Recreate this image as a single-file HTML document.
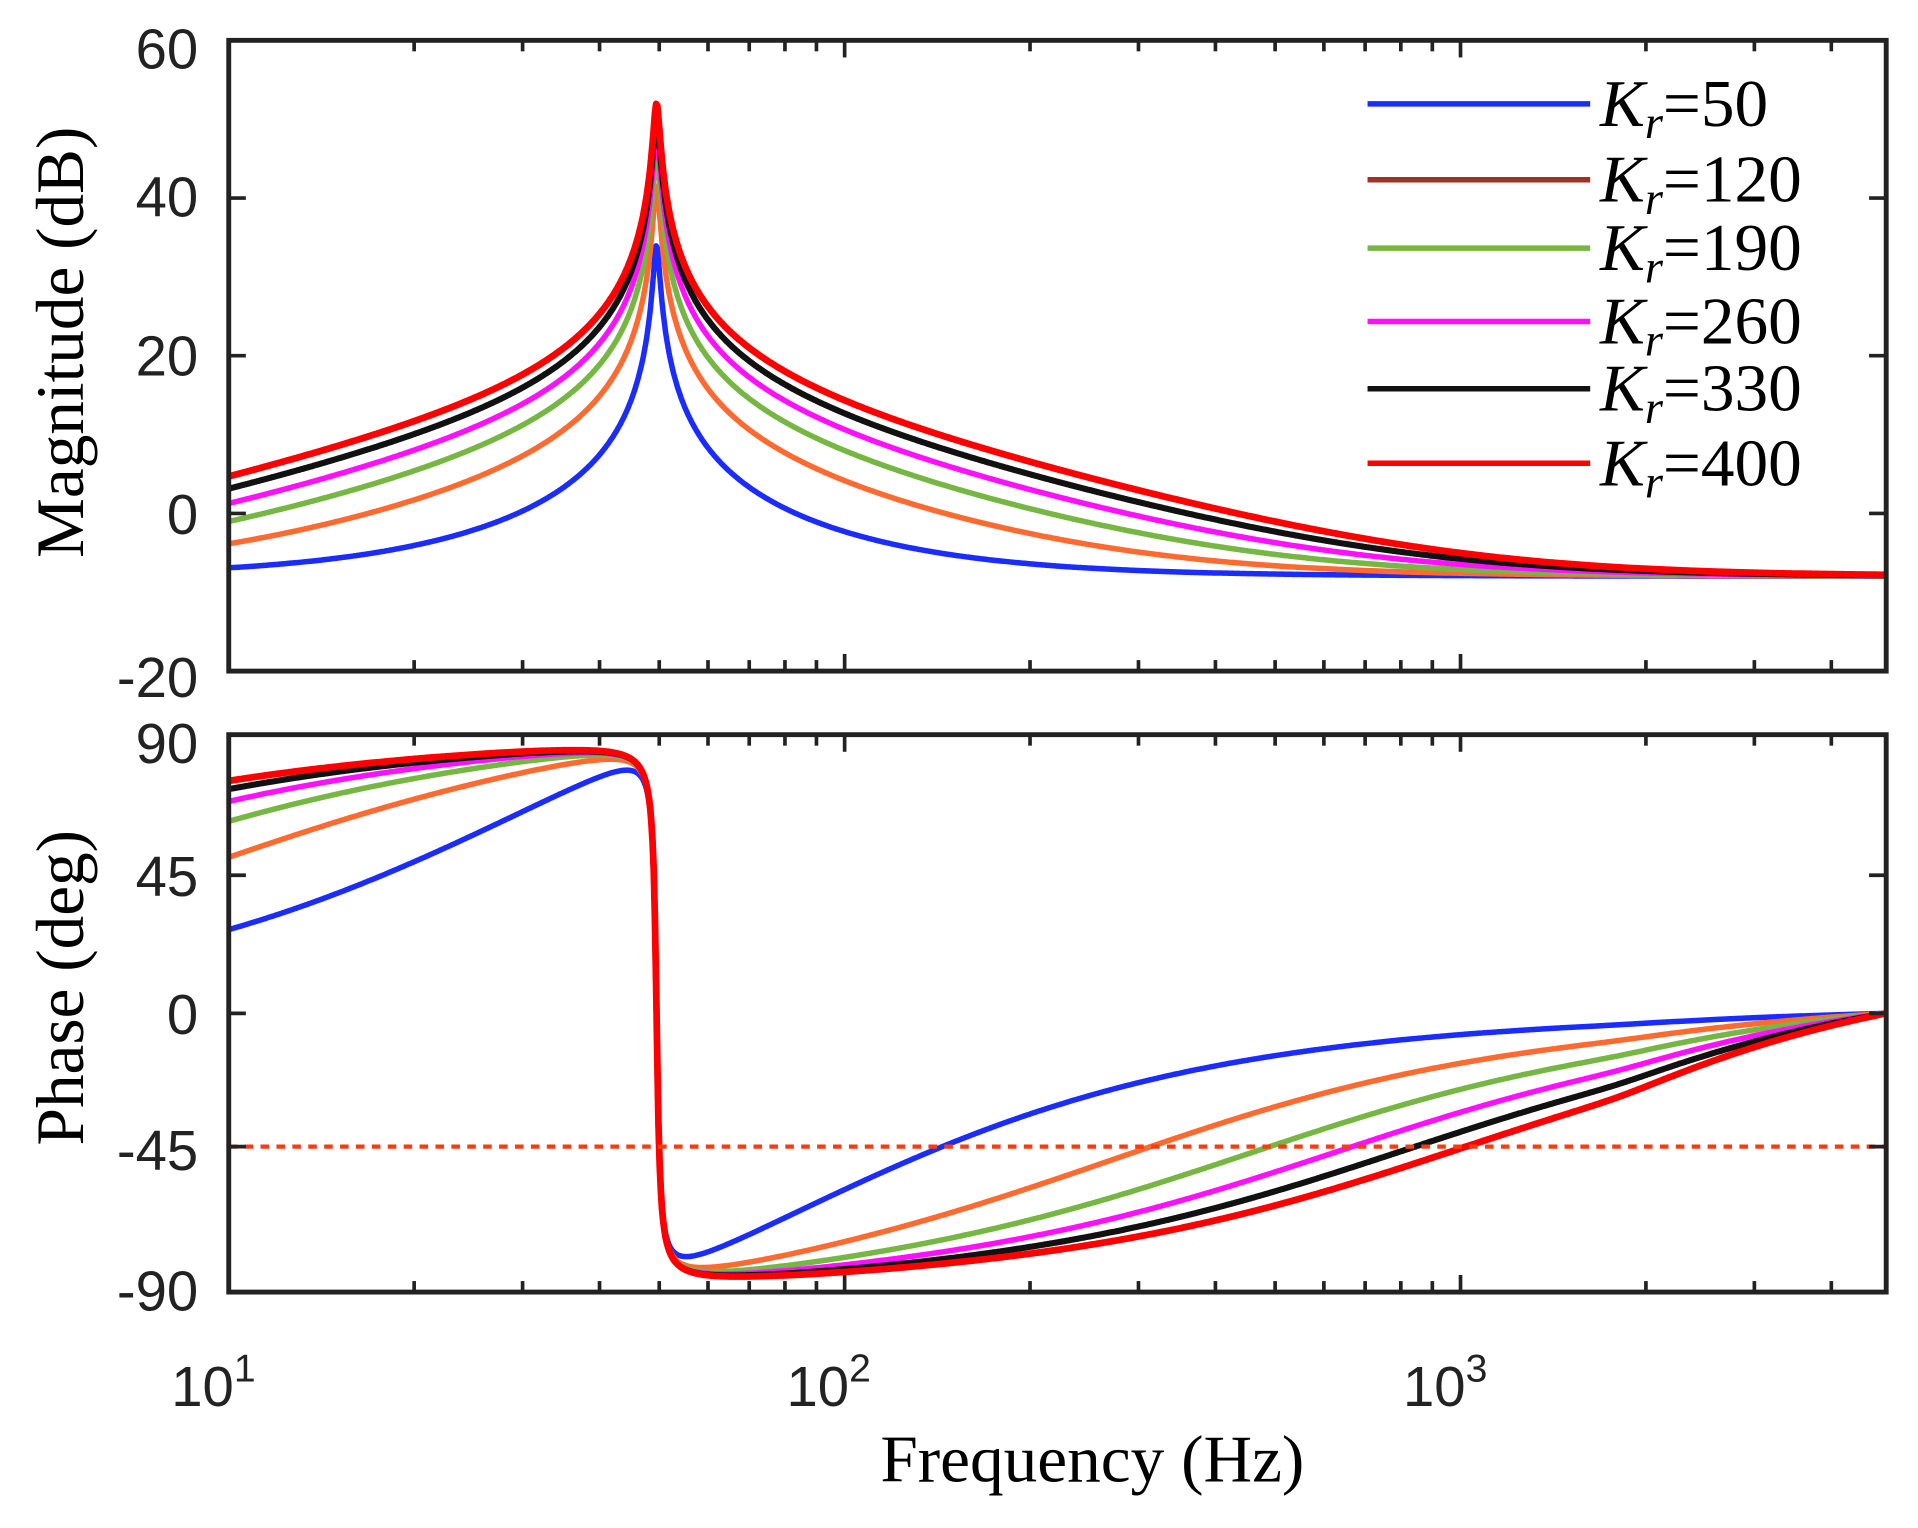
<!DOCTYPE html>
<html><head><meta charset="utf-8"><style>
html,body{margin:0;padding:0;background:#fff;}
svg{display:block}
.t{font-family:"Liberation Sans",Arial,sans-serif;font-size:46px;fill:#222}
.s{font-family:"Liberation Serif","Times New Roman",serif;fill:#000}
</style></head><body>
<svg id="g" width="1918" height="1528" viewBox="0 0 1568 1250" preserveAspectRatio="none" xmlns="http://www.w3.org/2000/svg">
<g id="curves" fill="none" stroke-linejoin="round"></g>
<line x1="187" y1="938" x2="1542" y2="938" stroke="#ff3a10" stroke-width="3.5" stroke-dasharray="7,6"/>
<g id="axes" stroke="#222" fill="none"></g>
<g class="t" text-anchor="end">
<text x="162" y="56">60</text><text x="162" y="177">40</text><text x="162" y="307">20</text><text x="162" y="437">0</text><text x="162" y="570">-20</text>
<text x="162" y="624">90</text><text x="162" y="733">45</text><text x="162" y="846">0</text><text x="162" y="957">-45</text><text x="162" y="1072">-90</text>
</g>
<g class="t">
<text x="140" y="1150">10<tspan dy="-20" font-size="32">1</tspan></text>
<text x="643" y="1150">10<tspan dy="-20" font-size="32">2</tspan></text>
<text x="1147" y="1150">10<tspan dy="-20" font-size="32">3</tspan></text>
</g>
<text class="s" font-size="55" x="893" y="1212" text-anchor="middle">Frequency (Hz)</text>
<text class="s" font-size="55" transform="translate(68,280) rotate(-90)" text-anchor="middle">Magnitude (dB)</text>
<text class="s" font-size="55" transform="translate(68,808) rotate(-90)" text-anchor="middle">Phase (deg)</text>
<g id="leg"></g>
</svg>
<script>
var NS="http://www.w3.org/2000/svg";
function el(p,n,a,t){var e=document.createElementNS(NS,n);for(var k in a)e.setAttribute(k,a[k]);if(t)e.textContent=t;p.appendChild(e);return e;}
var L=187,R=1542,D=503.5;
function X(f){return L+(Math.log10(f)-1)*D;}
var fmax=Math.pow(10,1+(R-L)/D);
var ax=document.getElementById('axes');
function box(top,bot,yt){
 el(ax,'rect',{x:L,y:top,width:R-L,height:bot-top,'stroke-width':4});
 for(var d=1;d<=3;d++)for(var m=1;m<=9;m++){var f=m*Math.pow(10,d);if(f>fmax)continue;var x=X(f);if(x<=L+1)continue;
  var len=(m==1)?14:9;
  el(ax,'line',{x1:x,y1:bot,x2:x,y2:bot-len,'stroke-width':3});
  el(ax,'line',{x1:x,y1:top,x2:x,y2:top+len,'stroke-width':3});}
 yt.forEach(function(y){el(ax,'line',{x1:L,y1:y,x2:L+14,y2:y,'stroke-width':3});el(ax,'line',{x1:R,y1:y,x2:R-14,y2:y,'stroke-width':3});});
}
box(33,549,[162,291,420]);
box(601,1057,[716,829,938]);
var ks=[50,120,190,260,330,400],cols=['#1a2cff','#ff6a30','#76b743','#ff10ff','#111','#ff0000'],wid=[4.5,4.5,4.5,4.5,5,5.5];
var c=2.45,z=0.0099,f0=49.5;
var cg=document.getElementById('curves');
ks.forEach(function(K,i){
 var pm='',pp='';
 for(var j=0;j<=1400;j++){
  var lf=1+j/1400*(Math.log10(fmax)-1),f=Math.pow(10,lf);
  var a=f0*f0-f*f,b=2*z*f0*f,den=a*a+b*b;
  var nr=c*K*f;
  var re=1+nr*b/den, im=nr*a/den;
  var mag=20*Math.log10(0.4*Math.sqrt(re*re+im*im));
  var ph=Math.atan2(im,re)*180/Math.PI;
  var g=(fmax-f)/(fmax-1800);
  // smooth min(1,g)
  var s=0.08; g=(1+g-Math.sqrt((1-g)*(1-g)+s*s))/2+ s/2*0;
  if(g>1)g=1; if(g<0)g=0;
  ph=ph*g;
  var x=X(f);
  var ym=420-mag*129/20, yp=829-ph*112.5/45;
  ym=Math.max(33,ym);
  pm+=(j?'L':'M')+x.toFixed(1)+' '+ym.toFixed(1);
  pp+=(j?'L':'M')+x.toFixed(1)+' '+yp.toFixed(1);
 }
 el(cg,'path',{d:pm,stroke:cols[i],'stroke-width':wid[i]});
 el(cg,'path',{d:pp,stroke:cols[i],'stroke-width':wid[i]});
});
var lg=document.getElementById('leg');
var ly=[85,147,203,263,318,379],lc=['#1a2cff','#a0302a','#76b743','#ff10ff','#111','#ff0000'];
ks.forEach(function(K,i){
 el(lg,'line',{x1:1118,y1:ly[i],x2:1300,y2:ly[i],stroke:lc[i],'stroke-width':4.5});
 var t=el(lg,'text',{x:1308,y:ly[i]+18,'class':'s','font-size':55});
 el(t,'tspan',{'font-style':'italic'},'K');
 el(t,'tspan',{'font-style':'italic','font-size':38,dy:10},'r');
 el(t,'tspan',{dy:-10},'='+K);
});
</script>
</body></html>
